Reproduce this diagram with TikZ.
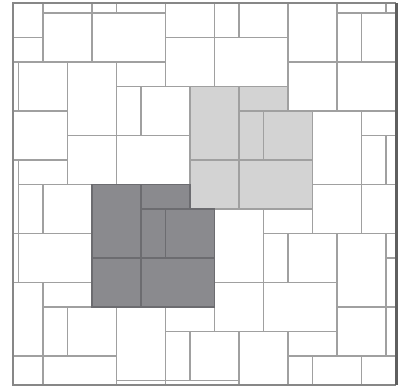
\documentclass[tikz,border=0pt]{standalone}
\definecolor{tileline}{RGB}{160,160,160}
\definecolor{darkfill}{RGB}{138,138,142}
\definecolor{lightfill}{RGB}{211,211,211}
\definecolor{darkline}{RGB}{108,108,112}
\definecolor{frameline}{RGB}{135,135,135}
\definecolor{frameright}{RGB}{95,95,95}
\tikzset{
  tilestroke/.style={draw=tileline,line width=1.2pt},
  darkstroke/.style={draw=darkline,line width=1.2pt},
  framestroke/.style={draw=frameline,line width=1.5pt},
  framerightstroke/.style={draw=frameright,line width=3pt}
}
% one repeat of the pattern: six tiles, shifted by (#1,#2) grid units
\newcommand\tilegroup[3]{%
  \path[#3] ({3+#1},{7+#2}) rectangle ++(2,3);
  \path[#3] ({5+#1},{7+#2}) rectangle ++(2,1);
  \path[#3] ({5+#1},{8+#2}) rectangle ++(1,2);
  \path[#3] ({6+#1},{8+#2}) rectangle ++(2,2);
  \path[#3] ({3+#1},{10+#2}) rectangle ++(2,2);
  \path[#3] ({5+#1},{10+#2}) rectangle ++(3,2);
}
\begin{document}
\begin{tikzpicture}[x=1pt,y=-1pt]
\useasboundingbox (0,0) rectangle (409,390);
\fill[white] (0,0) rectangle (409,390);
\begin{scope}
  \clip (13,3) rectangle (396,385);
  \begin{scope}[shift={(18.5,13)},x=24.5pt,y=-24.5pt]
    \tilegroup{0}{0}{fill=darkfill}
    \tilegroup{4}{-4}{fill=lightfill}
    \foreach \a in {-4,...,4}{%
      \foreach \b in {-4,...,4}{%
        \pgfmathtruncatemacro\dx{5*\a+\b}%
        \pgfmathtruncatemacro\dy{\a+5*\b}%
        \tilegroup{\dx}{\dy}{tilestroke}%
      }%
    }
    \tilegroup{0}{0}{darkstroke}
  \end{scope}
\end{scope}
\coordinate (ftl) at (13,3);
\coordinate (ftr) at (396,3);
\coordinate (fbl) at (13,385);
\coordinate (fbr) at (396,385);
\draw[framestroke] (ftr) -- (ftl) -- (fbl) -- (fbr);
\draw[framerightstroke] (ftr) -- (fbr);
\end{tikzpicture}
\end{document}
